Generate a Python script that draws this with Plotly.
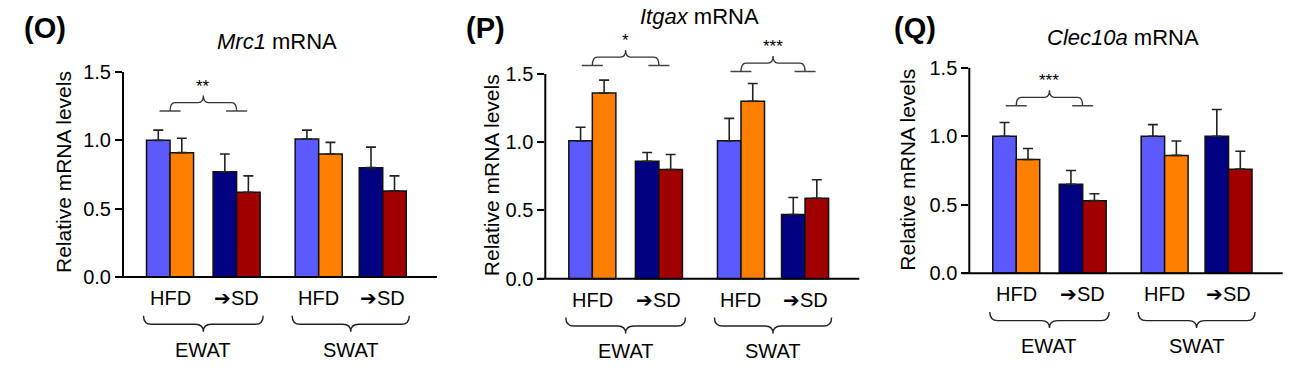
import plotly.graph_objects as go

# ---------------- data ----------------
panel_letters = ["(O)", "(P)", "(Q)"]
genes = ["Mrc1", "Itgax", "Clec10a"]
tissues = ["EWAT", "SWAT"]
diet_labels = ["HFD", "➔SD", "HFD", "➔SD"]
y_ticks = [0.0, 0.5, 1.0, 1.5]

# slot order: EWAT-HFD, EWAT-SD, SWAT-HFD, SWAT-SD (left bar / right bar of each pair)
mrc1_left = [1.00, 0.77, 1.01, 0.80]
mrc1_left_err = [0.075, 0.13, 0.065, 0.15]
mrc1_right = [0.91, 0.62, 0.90, 0.63]
mrc1_right_err = [0.105, 0.12, 0.085, 0.11]

itgax_left = [1.01, 0.86, 1.01, 0.47]
itgax_left_err = [0.10, 0.065, 0.165, 0.125]
itgax_right = [1.36, 0.80, 1.30, 0.59]
itgax_right_err = [0.095, 0.11, 0.13, 0.135]

clec10a_left = [1.00, 0.65, 1.00, 1.00]
clec10a_left_err = [0.10, 0.10, 0.085, 0.195]
clec10a_right = [0.83, 0.53, 0.86, 0.76]
clec10a_right_err = [0.08, 0.05, 0.105, 0.13]

# significance: (tissue index, stars, bracket level)
mrc1_sig = [(0, "**", 1.214)]
itgax_sig = [(0, "*", 1.562), (1, "***", 1.518)]
clec10a_sig = [(0, "***", 1.222)]

panels = [
    (mrc1_left, mrc1_left_err, mrc1_right, mrc1_right_err, mrc1_sig),
    (itgax_left, itgax_left_err, itgax_right, itgax_right_err, itgax_sig),
    (clec10a_left, clec10a_left_err, clec10a_right, clec10a_right_err, clec10a_sig),
]

# ---------------- layout / style ----------------
W, H = 1308, 369
FONT = "Arial, 'Liberation Sans', sans-serif"
pair_x = [0, 66.5, 148.5, 212.5]
x_range = [-47, 266.7]
bar_w = 23.5
left_colors = ["#5a5aff", "#000080", "#5a5aff", "#000080"]
right_colors = ["#ff8000", "#a00000", "#ff8000", "#a00000"]
y_range = [-0.6, 1.9]
# pixel anchors per panel: x_left, x_right, y_at_0, y_at_1.5
anchors = [(123, 437, 277, 72), (545.3, 859.3, 278.7, 74), (969.3, 1282.7, 273.3, 67.7)]
title_y = [41, 16, 37]
letter_pos = [(22, 28), (464, 28), (892, 28)]
ytitle_pos = [(63, 172), (491.7, 175.5), (906.7, 170)]

fig = go.Figure()
layout_axes = {}
shapes = []
annotations = []

for i, (lv, le, rv, re_, sig) in enumerate(panels):
    sfx = "" if i == 0 else str(i + 1)
    xa, ya = "x" + sfx, "y" + sfx
    xl, xr, y0, y15 = anchors[i]
    k = (y0 - y15) / 1.5  # px per unit
    top_px = y0 - y_range[1] * k
    bot_px = y0 - y_range[0] * k

    fig.add_trace(go.Bar(
        x=pair_x, y=lv, width=bar_w, offset=-bar_w, xaxis=xa, yaxis=ya,
        marker=dict(color=left_colors, line=dict(color="#111111", width=1.5)),
        error_y=dict(type="data", symmetric=False, array=le, arrayminus=[0] * 4,
                     color="#222222", thickness=1.6, width=5),
        showlegend=False, hoverinfo="skip"))
    fig.add_trace(go.Bar(
        x=pair_x, y=rv, width=bar_w, offset=0, xaxis=xa, yaxis=ya,
        marker=dict(color=right_colors, line=dict(color="#111111", width=1.5)),
        error_y=dict(type="data", symmetric=False, array=re_, arrayminus=[0] * 4,
                     color="#222222", thickness=1.6, width=5),
        showlegend=False, hoverinfo="skip"))

    layout_axes["xaxis" + sfx] = dict(
        domain=[xl / W, xr / W], range=x_range, anchor=ya, visible=False,
        fixedrange=True)
    layout_axes["yaxis" + sfx] = dict(
        domain=[(H - bot_px) / H, (H - top_px) / H], range=y_range, anchor=xa,
        showline=False, showgrid=False, zeroline=False, ticks="outside",
        ticklen=7, tickwidth=2, tickcolor="black", tickvals=y_ticks,
        tickformat=".1f", tickfont=dict(family=FONT, size=20, color="black"),
        fixedrange=True)

    # axis lines
    shapes.append(dict(type="line", xref=xa + " domain", yref=ya, x0=0, x1=0, y0=0, y1=1.5,
                       line=dict(color="black", width=2)))
    shapes.append(dict(type="line", xref=xa + " domain", yref=ya, x0=-7.5 / (xr - xl), x1=1,
                       y0=0, y1=0, line=dict(color="black", width=2)))

    # diet labels
    for j, lab in enumerate(diet_labels):
        annotations.append(dict(x=pair_x[j], y=-21 / k, xref=xa, yref=ya, text=lab,
                                showarrow=False, xanchor="center", yanchor="middle",
                                font=dict(family=FONT, size=20, color="black")))
    # tissue braces and labels
    for t, tis in enumerate(tissues):
        a = pair_x[2 * t] - 26.5
        b = pair_x[2 * t + 1] + 26.5
        c = (pair_x[2 * t] + pair_x[2 * t + 1]) / 2
        yt, yf, yp = -38.7 / k, -47.3 / k, -54.7 / k
        r = 8
        path = (f"M{a},{yt} Q{a},{yf} {a + r},{yf} L{c - r},{yf} Q{c},{yf} {c},{yp} "
                f"Q{c},{yf} {c + r},{yf} L{b - r},{yf} Q{b},{yf} {b},{yt}")
        shapes.append(dict(type="path", xref=xa, yref=ya, path=path,
                           line=dict(color="#222222", width=1.4)))
        annotations.append(dict(x=c, y=-72.5 / k, xref=xa, yref=ya, text=tis, showarrow=False,
                                xanchor="center", yanchor="middle",
                                font=dict(family=FONT, size=20, color="black")))
    # significance brackets
    for (t, stars, ys) in sig:
        x1 = pair_x[2 * t]
        x2 = pair_x[2 * t + 1]
        c = (x1 + x2) / 2
        yf = ys + 8.5 / k
        yp = yf + 7 / k
        r = 5
        path = (f"M{x1},{ys} Q{x1},{yf} {x1 + r},{yf} L{c - r},{yf} Q{c},{yf} {c},{yp} "
                f"Q{c},{yf} {c + r},{yf} L{x2 - r},{yf} Q{x2},{yf} {x2},{ys}")
        shapes.append(dict(type="path", xref=xa, yref=ya, path=path,
                           line=dict(color="#333333", width=1.3)))
        for xs in (x1, x2):
            shapes.append(dict(type="line", xref=xa, yref=ya, x0=xs - 10.5, x1=xs + 10.5,
                               y0=ys, y1=ys, line=dict(color="#444444", width=1.5)))
        annotations.append(dict(x=c, y=yp, xref=xa, yref=ya, text=stars, showarrow=False,
                                xanchor="center", yanchor="bottom", yshift=-2,
                                font=dict(family=FONT, size=17, color="black")))

    # title
    annotations.append(dict(x=0.49, y=1 - title_y[i] / H, xref=xa + " domain", yref="paper",
                            text=f"<i>{genes[i]}</i> mRNA", showarrow=False,
                            xanchor="center", yanchor="middle",
                            font=dict(family=FONT, size=22, color="black")))
    # panel letter
    lx, ly = letter_pos[i]
    annotations.append(dict(x=lx / W, y=1 - ly / H, xref="paper", yref="paper",
                            text=f"<b>{panel_letters[i]}</b>", showarrow=False,
                            xanchor="left", yanchor="middle",
                            font=dict(family=FONT, size=29, color="black")))
    # y title
    tx, ty = ytitle_pos[i]
    annotations.append(dict(x=tx / W, y=1 - ty / H, xref="paper", yref="paper",
                            text="Relative mRNA levels", showarrow=False, textangle=-90,
                            xanchor="center", yanchor="middle",
                            font=dict(family=FONT, size=21, color="black")))

fig.update_layout(
    width=W, height=H, margin=dict(l=0, r=0, t=0, b=0),
    paper_bgcolor="white", plot_bgcolor="white", barmode="overlay",
    shapes=shapes, annotations=annotations, **layout_axes)

fig.write_html("out.html", config={"displayModeBar": False},
               post_script="document.body.style.margin='0px';")
